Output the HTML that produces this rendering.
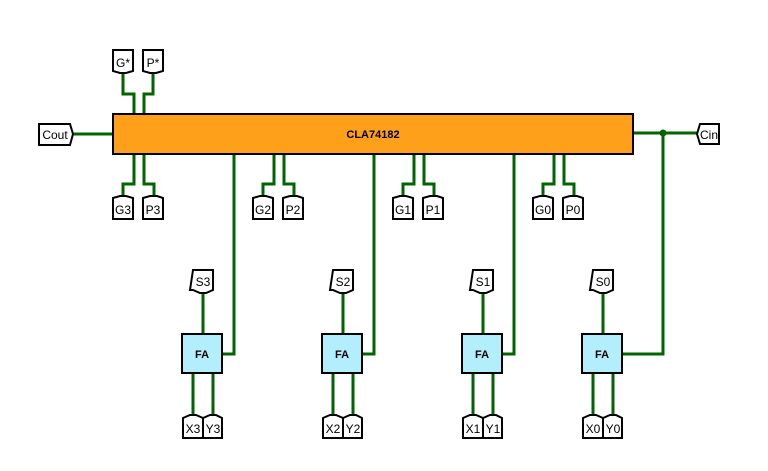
<!DOCTYPE html>
<html><head><meta charset="utf-8"><style>
html,body{margin:0;padding:0;background:#fff;}
svg{display:block;}
text{font-family:"Liberation Sans",sans-serif;font-size:12px;fill:#000;}
.b{font-weight:bold;font-size:11px;}
.w{stroke:#006400;stroke-width:3;fill:none;}
.p{fill:#fff;stroke:#000;stroke-width:2;}
</style></head><body>
<svg width="768" height="471" viewBox="0 0 768 471" xmlns="http://www.w3.org/2000/svg">
<g class="w">
<line x1="72" y1="134" x2="113" y2="134"/>
<line x1="633" y1="133" x2="697" y2="133"/>
<polyline points="123,73 123,94 134,94 134,114"/>
<polyline points="153,73 153,94 144,94 144,114"/>
<polyline points="134,154 134,184 123,184 123,197"/>
<polyline points="144,154 144,184 154,184 154,197"/>
<polyline points="274,154 274,184 263,184 263,197"/>
<polyline points="284,154 284,184 294,184 294,197"/>
<polyline points="414,154 414,184 403,184 403,197"/>
<polyline points="424,154 424,184 434,184 434,197"/>
<polyline points="554,154 554,184 543,184 543,197"/>
<polyline points="564,154 564,184 574,184 574,197"/>
<polyline points="234,154 234,354 222,354"/>
<polyline points="374,154 374,354 362,354"/>
<polyline points="514,154 514,354 502,354"/>
<polyline points="663,133 663,354 622,354"/>
<line x1="203" y1="292" x2="203" y2="334"/>
<line x1="343" y1="292" x2="343" y2="334"/>
<line x1="483" y1="292" x2="483" y2="334"/>
<line x1="603" y1="292" x2="603" y2="334"/>
<line x1="193" y1="373" x2="193" y2="416"/><line x1="213" y1="373" x2="213" y2="416"/>
<line x1="333" y1="373" x2="333" y2="416"/><line x1="353" y1="373" x2="353" y2="416"/>
<line x1="473" y1="373" x2="473" y2="416"/><line x1="493" y1="373" x2="493" y2="416"/>
<line x1="593" y1="373" x2="593" y2="416"/><line x1="613" y1="373" x2="613" y2="416"/>
</g>
<circle cx="663" cy="133" r="3.5" fill="#006400"/>
<rect x="113" y="114" width="520" height="40" fill="#FFA01A" stroke="#000" stroke-width="2"/>
<text x="373" y="138" class="b" text-anchor="middle">CLA74182</text>
<polygon class="p" points="39,124 70,124 73,134 70,145 39,145"/>
<text x="55" y="139" text-anchor="middle">Cout</text>
<polygon class="p" points="700,124 719,124 719,144 700,144 697,134"/>
<text x="709" y="139" text-anchor="middle">Cin</text>
<polygon class="p" points="113,50 133,50 133,71 126,73 120,73 113,71"/>
<text x="123" y="67" text-anchor="middle">G*</text>
<polygon class="p" points="143,50 163,50 163,71 156,73 150,73 143,71"/>
<text x="153" y="67" text-anchor="middle">P*</text>
<g>
<polygon class="p" points="113,198 120,196 126,196 133,198 133,219 113,219"/><text x="123" y="214" text-anchor="middle">G3</text>
<polygon class="p" points="143,198 150,196 157,196 163,198 163,219 143,219"/><text x="153" y="214" text-anchor="middle">P3</text>
<polygon class="p" points="253,198 260,196 266,196 273,198 273,219 253,219"/><text x="263" y="214" text-anchor="middle">G2</text>
<polygon class="p" points="283,198 290,196 297,196 303,198 303,219 283,219"/><text x="293" y="214" text-anchor="middle">P2</text>
<polygon class="p" points="393,198 400,196 406,196 413,198 413,219 393,219"/><text x="403" y="214" text-anchor="middle">G1</text>
<polygon class="p" points="423,198 430,196 437,196 443,198 443,219 423,219"/><text x="433" y="214" text-anchor="middle">P1</text>
<polygon class="p" points="533,198 540,196 546,196 553,198 553,219 533,219"/><text x="543" y="214" text-anchor="middle">G0</text>
<polygon class="p" points="563,198 570,196 577,196 583,198 583,219 563,219"/><text x="573" y="214" text-anchor="middle">P0</text>
</g>
<g>
<polygon class="p" points="193,270 213,270 213,290 206,293 200,293 193,290 190,290"/><text x="203" y="286" text-anchor="middle">S3</text>
<polygon class="p" points="333,270 353,270 353,290 346,293 340,293 333,290 330,290"/><text x="343" y="286" text-anchor="middle">S2</text>
<polygon class="p" points="473,270 493,270 493,290 486,293 480,293 473,290 470,290"/><text x="483" y="286" text-anchor="middle">S1</text>
<polygon class="p" points="593,270 613,270 613,290 606,293 600,293 593,290 590,290"/><text x="603" y="286" text-anchor="middle">S0</text>
</g>
<g>
<rect x="182" y="334" width="40" height="39" fill="#B3EEFC" stroke="#000" stroke-width="2"/><text x="202" y="358" class="b" text-anchor="middle">FA</text>
<rect x="322" y="334" width="40" height="39" fill="#B3EEFC" stroke="#000" stroke-width="2"/><text x="342" y="358" class="b" text-anchor="middle">FA</text>
<rect x="462" y="334" width="40" height="39" fill="#B3EEFC" stroke="#000" stroke-width="2"/><text x="482" y="358" class="b" text-anchor="middle">FA</text>
<rect x="582" y="334" width="40" height="39" fill="#B3EEFC" stroke="#000" stroke-width="2"/><text x="602" y="358" class="b" text-anchor="middle">FA</text>
</g>
<g>
<polygon class="p" points="183,418 190,415 196,415 203,418 203,438 183,438"/><text x="193" y="433" text-anchor="middle">X3</text>
<polygon class="p" points="203,418 210,415 216,415 222,418 222,438 203,438"/><text x="213" y="433" text-anchor="middle">Y3</text>
<polygon class="p" points="323,418 330,415 336,415 343,418 343,438 323,438"/><text x="333" y="433" text-anchor="middle">X2</text>
<polygon class="p" points="343,418 350,415 356,415 362,418 362,438 343,438"/><text x="353" y="433" text-anchor="middle">Y2</text>
<polygon class="p" points="463,418 470,415 476,415 483,418 483,438 463,438"/><text x="473" y="433" text-anchor="middle">X1</text>
<polygon class="p" points="483,418 490,415 496,415 502,418 502,438 483,438"/><text x="493" y="433" text-anchor="middle">Y1</text>
<polygon class="p" points="583,418 590,415 596,415 603,418 603,438 583,438"/><text x="593" y="433" text-anchor="middle">X0</text>
<polygon class="p" points="603,418 610,415 616,415 622,418 622,438 603,438"/><text x="613" y="433" text-anchor="middle">Y0</text>
</g>
</svg>
</body></html>
